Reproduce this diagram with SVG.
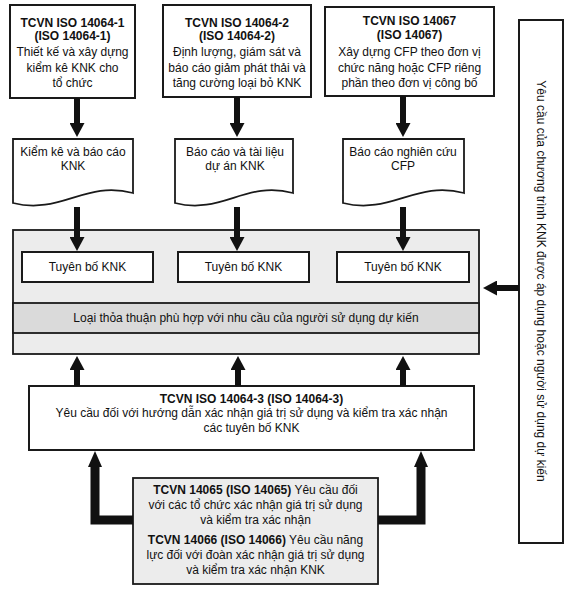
<svg xmlns="http://www.w3.org/2000/svg" width="571" height="590" viewBox="0 0 571 590">
<defs>
<style>
text{font-family:"Liberation Sans",Arial,sans-serif;font-size:12px;fill:#111;text-anchor:middle}
.b{font-weight:bold}
.box{fill:#fff;stroke:#1a1a1a;stroke-width:2}
.grey{fill:#ececec;stroke:#1a1a1a;stroke-width:1.8}
.band{fill:#dadada;stroke:#1a1a1a;stroke-width:1.8}
.doc{fill:#fff;stroke:#1a1a1a;stroke-width:1.8}
.arr{stroke:#111;stroke-width:6;fill:none}
.arrb{stroke:#111;stroke-width:9;fill:none;stroke-linejoin:miter}
</style>
<marker id="ah" markerUnits="userSpaceOnUse" viewBox="0 0 14 15" markerWidth="14" markerHeight="15" refX="0" refY="7.5" orient="auto"><path d="M0,0 L14,7.5 L0,15 z" fill="#111"/></marker>
<marker id="ahb" markerUnits="userSpaceOnUse" viewBox="0 0 16 14" markerWidth="16" markerHeight="14" refX="0" refY="7" orient="auto"><path d="M0,0 L16,7 L0,14 z" fill="#111"/></marker>
</defs>
<rect width="571" height="590" fill="#fff"/>

<g id="iso14064-1">
<rect class="box" x="10" y="5" width="125" height="93"/>
<text x="72.5" y="27" class="b">TCVN ISO 14064-1</text>
<text x="72.5" y="40" class="b">(ISO 14064-1)</text>
<text x="72.5" y="56">Thiết kế và xây dựng</text>
<text x="72.5" y="72">kiểm kê KNK cho</text>
<text x="72.5" y="87">tổ chức</text>
</g>
<g id="iso14064-2">
<rect class="box" x="163" y="5" width="148" height="92"/>
<text x="237" y="27" class="b">TCVN ISO 14064-2</text>
<text x="237" y="40" class="b">(ISO 14064-2)</text>
<text x="237" y="56">Định lượng, giám sát và</text>
<text x="237" y="72">báo cáo giảm phát thải và</text>
<text x="237" y="87">tăng cường loại bỏ KNK</text>
</g>
<g id="iso14067">
<rect class="box" x="325" y="7" width="169" height="89"/>
<text x="409.5" y="25" class="b">TCVN ISO 14067</text>
<text x="409.5" y="39" class="b">(ISO 14067)</text>
<text x="409.5" y="56">Xây dựng CFP theo đơn vị</text>
<text x="409.5" y="72">chức năng hoặc CFP riêng</text>
<text x="409.5" y="87">phần theo đơn vị công bố</text>
</g>

<g id="doc1">
<path class="doc" d="M13,139 H133 V193 C85,180 61,215 13,203 Z"/>
<text x="73" y="156">Kiểm kê và báo cáo</text>
<text x="73" y="170">KNK</text>
</g>
<g id="doc2">
<path class="doc" d="M175,139 H293 V193 C246,180 222,215 175,203 Z"/>
<text x="235" y="156">Báo cáo và tài liệu</text>
<text x="235" y="170">dự án KNK</text>
</g>
<g id="doc3">
<path class="doc" d="M343,139 H464 V193 C416,180 391,215 343,203 Z"/>
<text x="403" y="156">Báo cáo nghiên cứu</text>
<text x="403" y="170">CFP</text>
</g>

<g id="claims-container">
<rect class="grey" x="13" y="230" width="466" height="124"/>
<rect class="band" x="13" y="303" width="466" height="30"/>
<text x="246" y="322">Loại thỏa thuận phù hợp với nhu cầu của người sử dụng dự kiến</text>
</g>
<g id="claim1">
<rect class="box" x="22" y="252" width="131" height="30"/>
<text x="87.5" y="271">Tuyên bố KNK</text>
</g>
<g id="claim2">
<rect class="box" x="178" y="252" width="131" height="30"/>
<text x="243.5" y="271">Tuyên bố KNK</text>
</g>
<g id="claim3">
<rect class="box" x="337" y="252" width="132" height="30"/>
<text x="403" y="271">Tuyên bố KNK</text>
</g>

<g id="programme">
<rect class="box" x="519" y="20" width="44" height="523" stroke-width="1.5"/>
<text transform="translate(541,281) rotate(90)" x="0" y="4">Yêu cầu của chương trình KNK được áp dụng hoặc người sử dụng dự kiến</text>
</g>

<g id="iso14064-3">
<rect class="box" x="29" y="386" width="445" height="64"/>
<text x="251.5" y="403" class="b">TCVN ISO 14064-3 (ISO 14064-3)</text>
<text x="251.5" y="417">Yêu cầu đối với hướng dẫn xác nhận giá trị sử dụng và kiểm tra xác nhận</text>
<text x="251.5" y="432">các tuyên bố KNK</text>
</g>

<g id="iso14065-14066">
<rect class="grey" x="133" y="478" width="245" height="106" stroke-width="2"/>
<text x="255.5" y="494"><tspan class="b">TCVN 14065 (ISO 14065)</tspan> Yêu cầu đối</text>
<text x="255.5" y="509">với các tổ chức xác nhận giá trị sử dụng</text>
<text x="255.5" y="524">và kiểm tra xác nhận</text>
<text x="255.5" y="544"><tspan class="b">TCVN 14066 (ISO 14066)</tspan> Yêu cầu năng</text>
<text x="255.5" y="559">lực đối với đoàn xác nhận giá trị sử dụng</text>
<text x="255.5" y="574">và kiểm tra xác nhận KNK</text>
</g>

<g id="connectors">
<line class="arr" x1="77" y1="98" x2="77" y2="123" marker-end="url(#ah)"/>
<line class="arr" x1="237" y1="97" x2="237" y2="123" marker-end="url(#ah)"/>
<line class="arr" x1="403" y1="96" x2="403" y2="123" marker-end="url(#ah)"/>
<line class="arr" x1="77" y1="207" x2="77" y2="237" marker-end="url(#ah)"/>
<line class="arr" x1="237" y1="207" x2="237" y2="237" marker-end="url(#ah)"/>
<line class="arr" x1="403" y1="207" x2="403" y2="237" marker-end="url(#ah)"/>
<line class="arr" x1="519" y1="288" x2="497" y2="288" marker-end="url(#ah)"/>
<line class="arr" x1="77" y1="386" x2="77" y2="370" marker-end="url(#ah)"/>
<line class="arr" x1="238" y1="386" x2="238" y2="370" marker-end="url(#ah)"/>
<line class="arr" x1="403" y1="386" x2="403" y2="370" marker-end="url(#ah)"/>
<polyline class="arrb" points="133,520 95,520 95,467" marker-end="url(#ahb)"/>
<polyline class="arrb" points="378,520 421,520 421,467" marker-end="url(#ahb)"/>
</g>
</svg>
